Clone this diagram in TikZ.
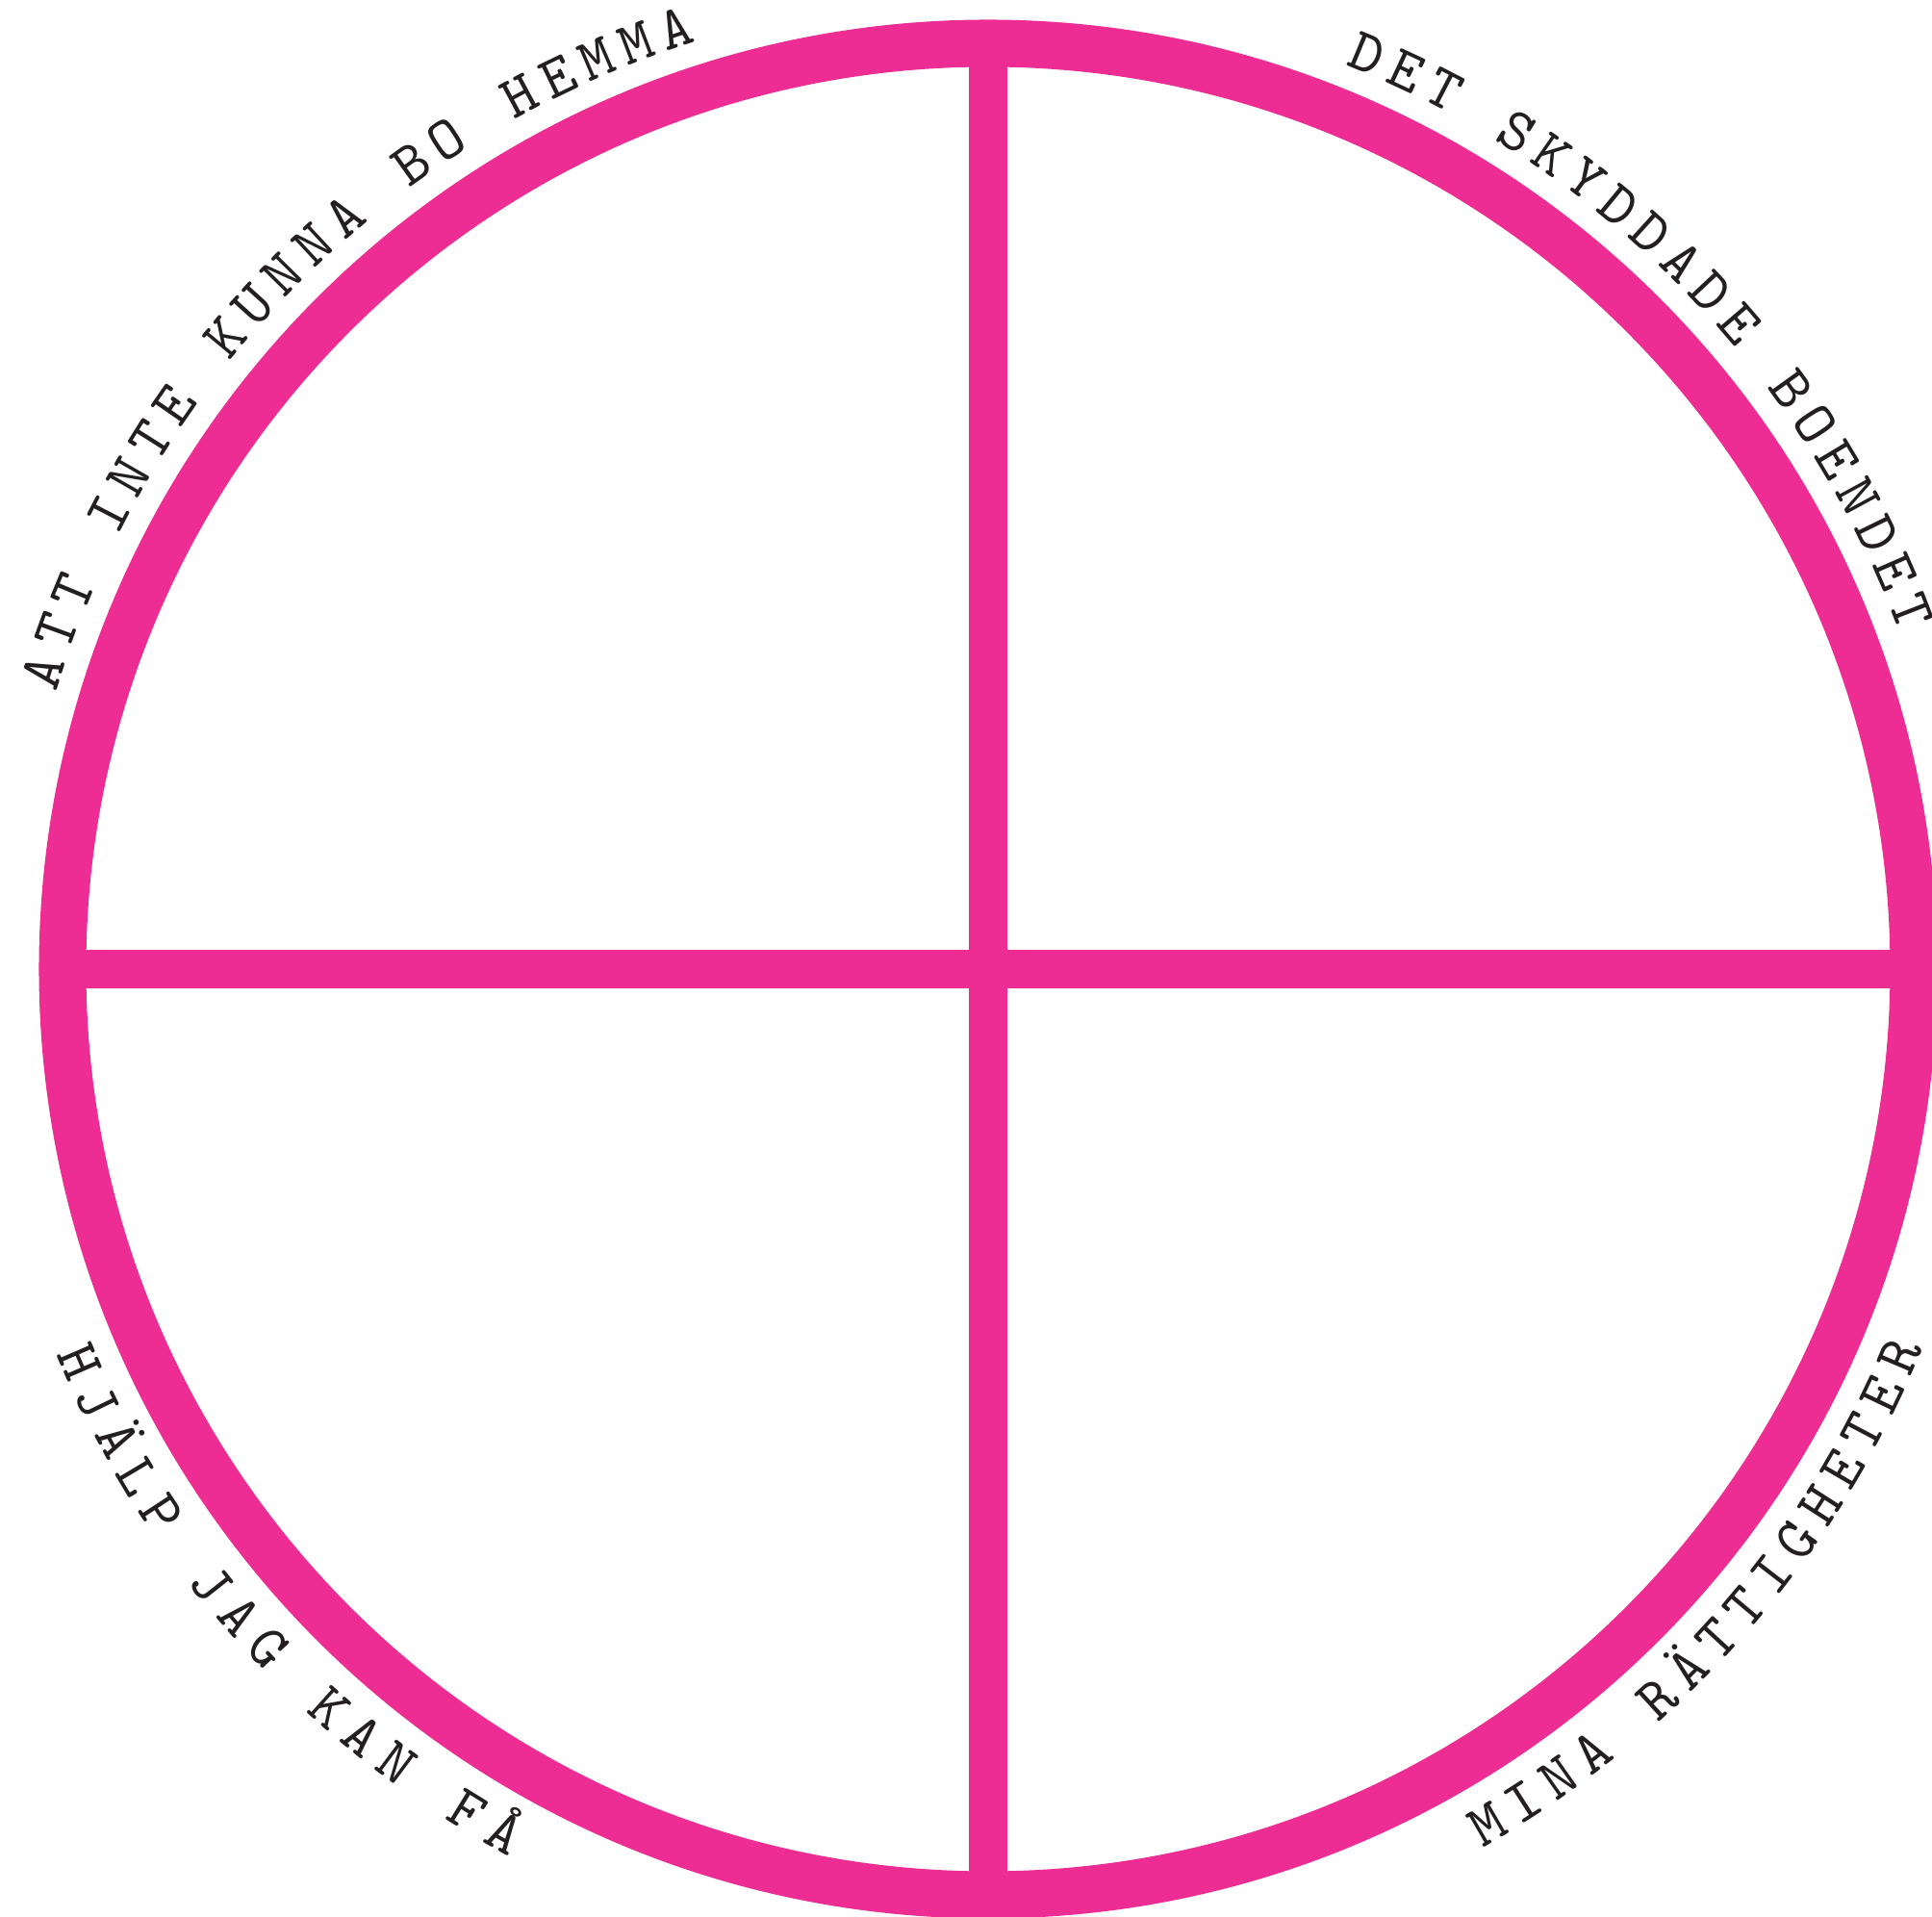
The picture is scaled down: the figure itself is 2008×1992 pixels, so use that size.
\documentclass[tikz,border=0pt]{standalone}
\usepackage{fontspec}
\newfontfamily\labelfont{lmmono10-regular.otf}
\definecolor{ringpink}{RGB}{237,45,148}
\definecolor{inkgray}{RGB}{35,31,32}
\begin{document}
\begin{tikzpicture}[x=0.01cm,y=0.01cm,
  ringline/.style={draw=ringpink, line width=0.49cm},
  crossline/.style={draw=ringpink, line width=0.40cm},
  arclabel/.style={anchor=base, inner sep=0pt, text=inkgray,
    font=\labelfont\fontsize{18pt}{21pt}\selectfont},
]
\useasboundingbox (-1027,-985) rectangle (981,1007);
\clip (-1027,-985) rectangle (981,1007);
\coordinate (c) at (0,0);
\coordinate (top) at (90:962);
\coordinate (bottom) at (-90:962);
\coordinate (left) at (180:962);
\coordinate (right) at (0:962);
\draw[crossline] (top) -- (bottom);
\draw[crossline] (left) -- (right);
\draw[ringline] (c) circle[radius=962];
% top-left label (clockwise)
\foreach \c [count=\i from 0] in {A,T,T,,I,N,T,E,,K,U,N,N,A,,B,O,,H,E,M,M,A}{
  \pgfmathsetmacro\a{162.5-2.46*\i}
  \ifx\c\empty\else
  \node[arclabel, rotate=\a-90] (tl\i) at (\a:1010) {\c};
  \fi
}
% top-right label (clockwise)
\foreach \c [count=\i from 0] in {D,E,T,,S,K,Y,D,D,A,D,E,,B,O,E,N,D,E,T}{
  \pgfmathsetmacro\a{67.45-2.434*\i}
  \ifx\c\empty\else
  \node[arclabel, rotate=\a-90] (tr\i) at (\a:1010) {\c};
  \fi
}
% bottom-left label (counterclockwise)
\foreach \c [count=\i from 0] in {H,J,Ä,L,P,,J,A,G,,K,A,N,,F,Å}{
  \pgfmathsetmacro\a{203.4+2.49*\i}
  \ifx\c\empty\else
  \node[arclabel, rotate=\a+90] (bl\i) at (\a:1048) {\c};
  \fi
}
% bottom-right label (counterclockwise)
\foreach \c [count=\i from 0] in {M,I,N,A,,R,Ä,T,T,I,G,H,E,T,E,R}{
  \pgfmathsetmacro\a{300.3+2.447*\i}
  \ifx\c\empty\else
  \node[arclabel, rotate=\a+90] (br\i) at (\a:1048) {\c};
  \fi
}
\end{tikzpicture}
\end{document}
